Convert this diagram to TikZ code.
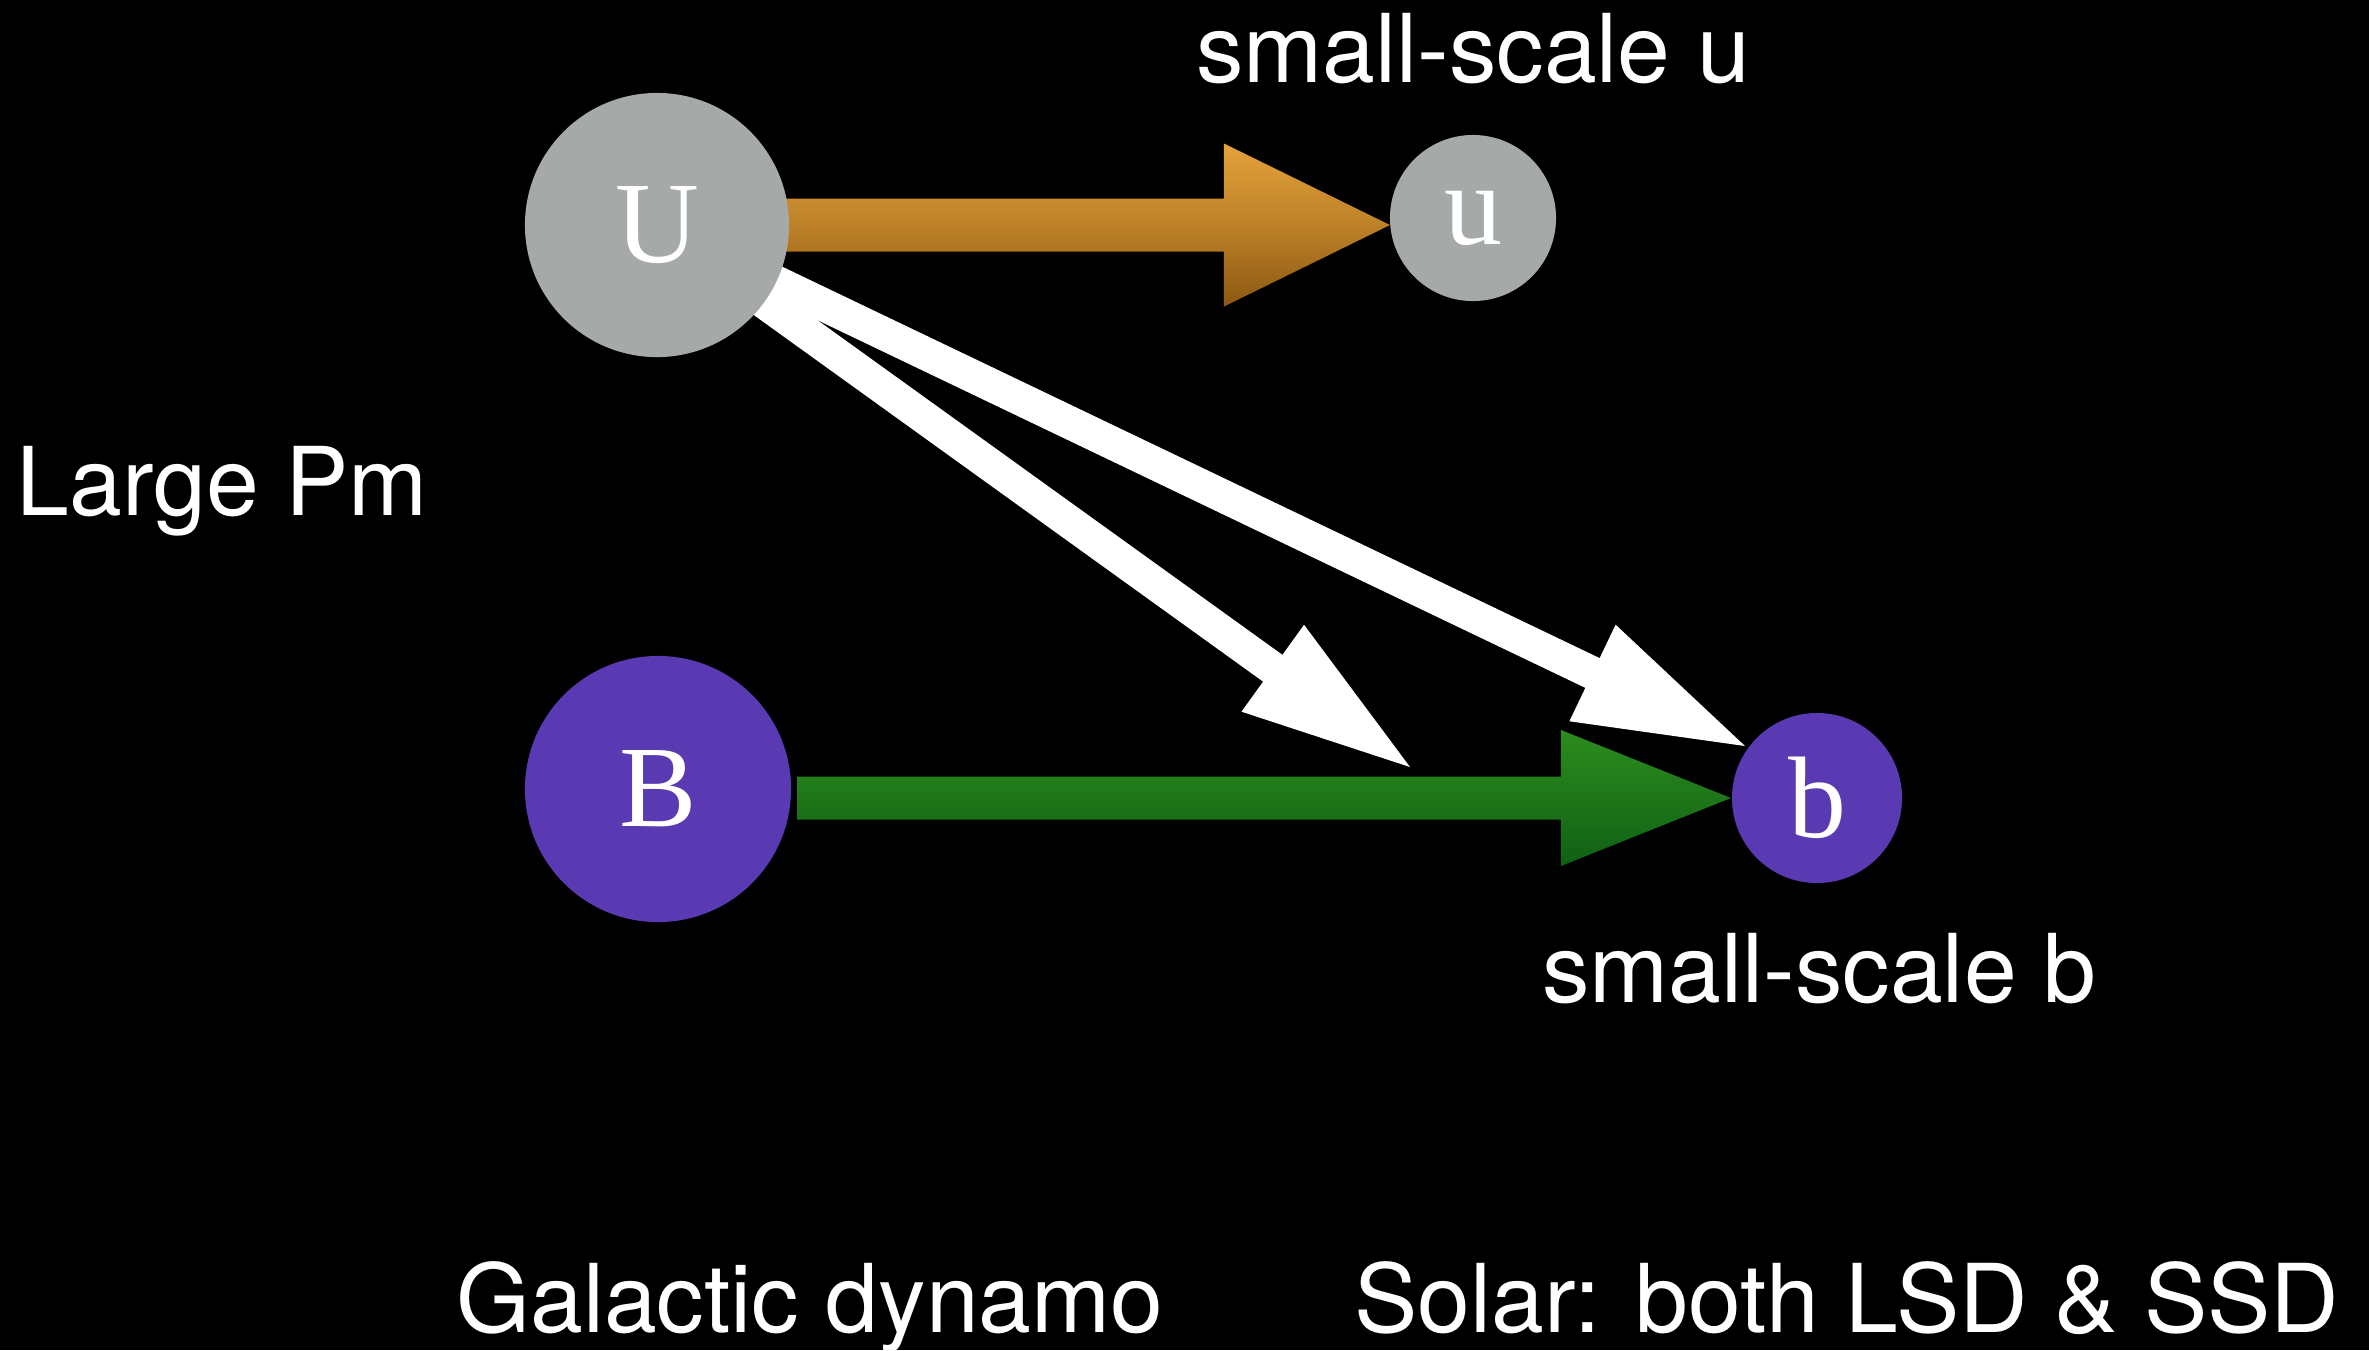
\documentclass[tikz,border=0pt]{standalone}
\usepackage{fontspec}
\setmainfont{TeX Gyre Heros}
\newfontfamily\letterfont{Liberation Serif}
\usetikzlibrary{calc}
\pgfdeclarelayer{back}
\pgfdeclarelayer{mid}
\pgfsetlayers{back,mid,main}
\definecolor{greyball}{RGB}{165,169,167}
\definecolor{purpleball}{RGB}{89,58,178}
\definecolor{orangetop}{RGB}{228,162,58}
\definecolor{orangebot}{RGB}{140,88,18}
\definecolor{greentop}{RGB}{44,140,30}
\definecolor{greenbot}{RGB}{16,96,20}
% #1 start, #2 tip, #3 shaft half width, #4 head length, #5 head half width, #6 style
\newcommand\blockarrow[6]{%
  \path coordinate (ba-h) at ($(#2)!#4!(#1)$);
  \fill[#6] ($(#1)!#3!90:(#2)$) -- ($(ba-h)!#3!-90:(#1)$) -- ($(ba-h)!#5!-90:(#1)$)
    -- (#2) -- ($(ba-h)!#5!90:(#1)$) -- ($(ba-h)!#3!90:(#1)$) -- ($(#1)!#3!-90:(#2)$) -- cycle;
}
\tikzset{
  ball/.style={circle, inner sep=0pt, text=white, font=\letterfont\fontsize{33}{38}\selectfont},
  lab/.style={text=white, inner sep=0pt, font=\fontsize{27}{32}\selectfont},
  orangefill/.style={top color=orangetop, bottom color=orangebot, middle color=orangetop!55!orangebot},
  greenfill/.style={top color=greentop, bottom color=greenbot},
  whitefill/.style={fill=white}
}
\begin{document}
\begin{tikzpicture}[x=0.01cm,y=-0.01cm]
\begin{pgfonlayer}{back}
  \fill[black] (0,0) rectangle (2369,1350);
\end{pgfonlayer}
\useasboundingbox (0,0) rectangle (2369,1350);

\node[ball, fill=greyball, minimum size=2.64cm] (U) at (657,225) {U};
\node[ball, fill=greyball, minimum size=1.66cm] (u) at (1473,218) {u};
\node[ball, fill=purpleball, minimum size=2.66cm] (B) at (658,789) {B};
\node[ball, fill=purpleball, minimum size=1.70cm] (b) at (1817,798) {b};

\coordinate (uin) at (1390,225);
\coordinate (Bout) at (797,798);
\coordinate (bin) at (1731,798);
\coordinate (w1) at (1410,767);
\coordinate (w2) at (1745,746);

\begin{pgfonlayer}{mid}
  \blockarrow{U}{uin}{0.265cm}{1.66cm}{0.815cm}{orangefill}
  \blockarrow{Bout}{bin}{0.215cm}{1.70cm}{0.68cm}{greenfill}
  \blockarrow{U}{w1}{0.165cm}{1.69cm}{0.535cm}{whitefill}
  \blockarrow{U}{w2}{0.165cm}{1.69cm}{0.535cm}{whitefill}
\end{pgfonlayer}

\node[lab, anchor=base] (su) at (1473,82) {small-scale u};
\node[lab, anchor=base west] (pm) at (16,515) {Large Pm};
\node[lab, anchor=base] (sb) at (1819,1002) {small-scale b};
\node[lab, anchor=base] (gd) at (810,1332) {Galactic dynamo};
\node[lab, anchor=base] (sol) at (1847,1332) {Solar: both LSD \& SSD};
\end{tikzpicture}
\end{document}
